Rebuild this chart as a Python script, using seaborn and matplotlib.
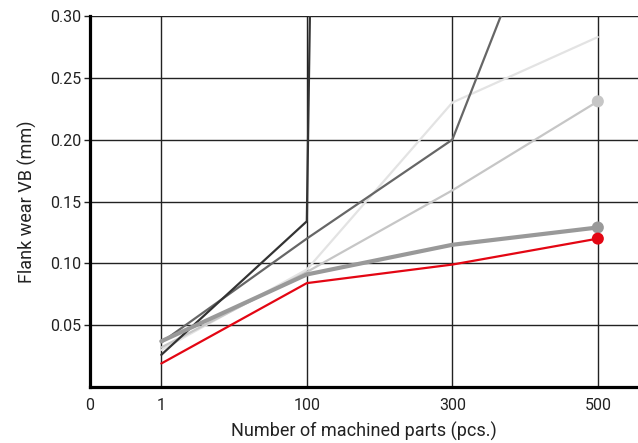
import numpy as np
import pandas as pd
import seaborn as sns
from matplotlib import pyplot as plt

# parts machined (categorical positions) and flank wear per tool
parts = [1, 100, 300, 500]
wear_darkest = [0.026, 0.134, 8.0, np.nan]
wear_dark = [0.036, 0.120, 0.200, 0.50]
wear_light = [0.030, 0.095, 0.230, 0.283]
wear_midlight = [0.032, 0.093, 0.159, 0.231]
wear_gray = [0.037, 0.091, 0.115, 0.129]
wear_red = [0.019, 0.084, 0.099, 0.120]

x_tick_labels = ['0', '1', '100', '300', '500']
y_ticks = [0.05, 0.10, 0.15, 0.20, 0.25, 0.30]


def main():
    sns.set_theme(style='white')
    plt.rcParams['font.family'] = ['Roboto', 'DejaVu Sans']

    pos = np.arange(len(parts))
    series = [
        (wear_light, '#e3e3e3', 1.6, False),
        (wear_midlight, '#c6c6c6', 1.6, True),
        (wear_dark, '#666666', 1.6, False),
        (wear_darkest, '#333333', 1.6, False),
        (wear_gray, '#999999', 3.0, True),
        (wear_red, '#e30613', 1.6, True),
    ]

    fig = plt.figure(figsize=(6.38, 4.43), dpi=100)
    ax = fig.add_axes([90 / 638, 1 - 387 / 443, 548 / 638, 371 / 443])

    for vals, col, lw, marker in series:
        df = pd.DataFrame({'pos': pos, 'wear': vals}).dropna()
        sns.lineplot(data=df, x='pos', y='wear', color=col, linewidth=lw, ax=ax,
                     solid_capstyle='round', zorder=3)
        if marker:
            sns.scatterplot(x=[df['pos'].iloc[-1]], y=[df['wear'].iloc[-1]], color=col,
                            s=75, edgecolor='none', ax=ax, zorder=4)

    ax.set_xlim(-0.49, 3.276)
    ax.set_ylim(0, 0.30)
    ax.set_xticks([-0.49] + list(pos))
    ax.set_xticklabels(x_tick_labels)
    ax.set_yticks(y_ticks)
    ax.set_yticklabels([f'{v:.2f}' for v in y_ticks])

    for v in y_ticks:
        ax.axhline(v, color='#222222', lw=1.0, zorder=1)
    for p in pos:
        ax.axvline(p, color='#222222', lw=1.0, zorder=1)

    for s in ['top', 'right']:
        ax.spines[s].set_visible(False)
    for s in ['left', 'bottom']:
        ax.spines[s].set_color('black')
        ax.spines[s].set_linewidth(2.3)

    ax.tick_params(axis='y', left=True, length=4, width=1, color='#222222', pad=2,
                   labelsize=11.5, labelcolor='#222222')
    ax.tick_params(axis='x', bottom=False, pad=2, labelsize=11.5, labelcolor='#222222')

    ax.set_xlabel('Number of machined parts (pcs.)', fontsize=13, color='#222222', labelpad=6)
    ax.set_ylabel('Flank wear VB (mm)', fontsize=13, color='#222222', labelpad=10)

    fig.savefig('out.png', dpi=100)


if __name__ == "__main__":
    main()
